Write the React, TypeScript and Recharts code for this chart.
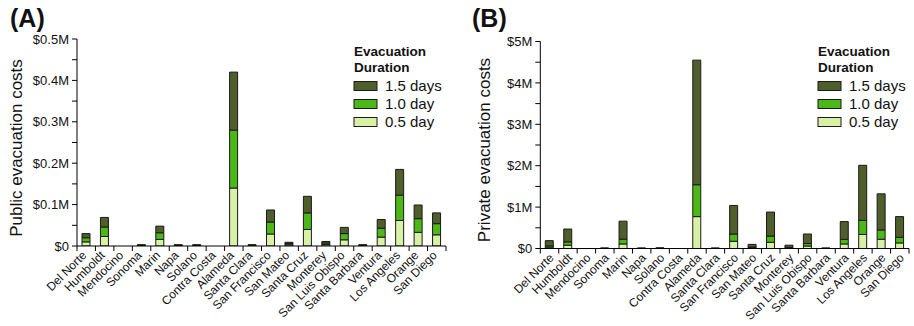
import React from 'react';
import { BarChart, Bar, XAxis, YAxis } from 'recharts';

const counties = [
  'Del Norte', 'Humboldt', 'Mendocino', 'Sonoma', 'Marin', 'Napa', 'Solano',
  'Contra Costa', 'Alameda', 'Santa Clara', 'San Francisco', 'San Mateo',
  'Santa Cruz', 'Monterey', 'San Luis Obispo', 'Santa Barbara', 'Ventura',
  'Los Angeles', 'Orange', 'San Diego',
];

// Public evacuation costs ($M), total cost for each evacuation duration
const publicHalfDay = [0.010, 0.023, 0, 0.001, 0.016, 0.001, 0.001, 0, 0.140, 0.001, 0.029, 0.003, 0.040, 0.0037, 0.015, 0.001, 0.0215, 0.0617, 0.033, 0.027];
const publicOneDay = [0.020, 0.046, 0, 0.002, 0.032, 0.002, 0.002, 0, 0.280, 0.002, 0.058, 0.006, 0.080, 0.0073, 0.030, 0.002, 0.043, 0.123, 0.066, 0.054];
const publicOneHalfDay = [0.030, 0.069, 0, 0.003, 0.048, 0.003, 0.003, 0, 0.420, 0.003, 0.087, 0.009, 0.120, 0.011, 0.045, 0.003, 0.064, 0.185, 0.099, 0.080];

// Private evacuation costs ($M)
const privateHalfDay = [0.032, 0.080, 0, 0.002, 0.110, 0.002, 0.003, 0, 0.770, 0.002, 0.175, 0.017, 0.150, 0.014, 0.060, 0.002, 0.110, 0.340, 0.224, 0.135];
const privateOneDay = [0.064, 0.160, 0, 0.004, 0.225, 0.004, 0.006, 0, 1.540, 0.004, 0.350, 0.034, 0.300, 0.027, 0.120, 0.004, 0.220, 0.680, 0.448, 0.270];
const privateOneHalfDay = [0.190, 0.470, 0, 0.012, 0.660, 0.010, 0.015, 0, 4.550, 0.010, 1.040, 0.100, 0.880, 0.080, 0.350, 0.010, 0.650, 2.010, 1.320, 0.770];

const legendLabels = ['1.5 days', '1.0 day', '0.5 day'];
const legendTitle = ['Evacuation', 'Duration'];

const publicYTicks = [0, 0.05, 0.1, 0.15, 0.2, 0.25, 0.3, 0.35, 0.4, 0.45, 0.5];
const publicYMajor = ['$0', '$0.1M', '$0.2M', '$0.3M', '$0.4M', '$0.5M'];
const privateYTicks = [0, 0.5, 1, 1.5, 2, 2.5, 3, 3.5, 4, 4.5, 5];
const privateYMajor = ['$0', '$1M', '$2M', '$3M', '$4M', '$5M'];

const COLORS = { d15: '#4f5e2b', d10: '#4cb818', d05: '#d9f1a6' };
const FONT = '"Liberation Sans", Arial, Helvetica, sans-serif';
const INK = '#111';

function buildData(half: number[], one: number[], oneHalf: number[]) {
  return counties.map((county, i) => ({
    county,
    d05: half[i],
    d10: one[i] - half[i],
    d15: oneHalf[i] - one[i],
  }));
}

const publicData = buildData(publicHalfDay, publicOneDay, publicOneHalfDay);
const privateData = buildData(privateHalfDay, privateOneDay, privateOneHalfDay);

type PanelProps = {
  data: any[];
  yTicks: number[];
  yMajor: string[];
  width: number;
  height: number;
  margin: { top: number; right: number; bottom: number; left: number };
  yAxisWidth: number;
  xAxisHeight: number;
  labelDx: number;
};

function Panel(p: PanelProps) {
  const plotW = p.width - p.margin.left - p.margin.right - p.yAxisWidth;
  const halfBand = plotW / p.data.length / 2;
  const XTick = (props: any) => {
    const { x, y, payload, index } = props;
    const off = payload && typeof payload.offset === 'number' && payload.offset > 0 ? payload.offset : halfBand;
    const last = index === p.data.length - 1;
    const ax = x + p.labelDx;
    const ay = y + 10;
    return (
      <g>
        <line x1={x - off} x2={x - off} y1={y} y2={y + 5} stroke="#000" strokeWidth={1} />
        {last && <line x1={x + off} x2={x + off} y1={y} y2={y + 5} stroke="#000" strokeWidth={1} />}
        <text
          x={ax}
          y={ay}
          transform={`rotate(-45 ${ax} ${ay})`}
          textAnchor="end"
          fontSize={12}
          fontFamily={FONT}
          fill={INK}
        >
          {payload.value}
        </text>
      </g>
    );
  };
  const YTick = (props: any) => {
    const { x, y, payload, index } = props;
    if (index % 2 !== 0) return <g />;
    return (
      <text x={x - 1} y={y} dy="0.36em" textAnchor="end" fontSize={13} fontFamily={FONT} fill={INK}>
        {p.yMajor[index / 2]}
      </text>
    );
  };
  return (
    <BarChart width={p.width} height={p.height} data={p.data} margin={p.margin} barSize={8}>
      <XAxis
        dataKey="county"
        interval={0}
        height={p.xAxisHeight}
        tickSize={0}
        tickMargin={0}
        tickLine={false}
        axisLine={{ stroke: '#000', strokeWidth: 1 }}
        tick={XTick}
      />
      <XAxis xAxisId="top" orientation="top" dataKey="county" height={0} tick={false} tickLine={false} axisLine={{ stroke: '#000', strokeWidth: 1 }} />
      <YAxis
        type="number"
        domain={[p.yTicks[0], p.yTicks[p.yTicks.length - 1]]}
        ticks={p.yTicks}
        interval={0}
        width={p.yAxisWidth}
        tickSize={5}
        tickMargin={2}
        tickLine={{ stroke: '#000', strokeWidth: 1 }}
        axisLine={{ stroke: '#000', strokeWidth: 1 }}
        tick={YTick}
        allowDataOverflow
      />
      <YAxis yAxisId="right" orientation="right" type="number" domain={[0, 1]} width={0} tick={false} tickLine={false} axisLine={{ stroke: '#000', strokeWidth: 1 }} />
      <Bar dataKey="d05" stackId="s" fill={COLORS.d05} stroke="#1a1a1a" strokeWidth={1} isAnimationActive={false} />
      <Bar dataKey="d10" stackId="s" fill={COLORS.d10} stroke="#1a1a1a" strokeWidth={1} isAnimationActive={false} />
      <Bar dataKey="d15" stackId="s" fill={COLORS.d15} stroke="#1a1a1a" strokeWidth={1} isAnimationActive={false} />
    </BarChart>
  );
}

function LegendBlock({ x }: { x: number }) {
  const swatchColors = [COLORS.d15, COLORS.d10, COLORS.d05];
  return (
    <g fontFamily={FONT} fill={INK}>
      <text x={x} y={55.5} fontSize={13.5} fontWeight="bold">{legendTitle[0]}</text>
      <text x={x} y={71.5} fontSize={13.5} fontWeight="bold">{legendTitle[1]}</text>
      {legendLabels.map((lab, i) => {
        const cy = 86 + i * 18;
        return (
          <g key={lab}>
            <rect x={x} y={cy - 4.5} width={23} height={9} fill={swatchColors[i]} stroke="#1a1a1a" strokeWidth={1} />
            <text x={x + 31} y={cy + 5.3} fontSize={15}>{lab}</text>
          </g>
        );
      })}
    </g>
  );
}

export default function App() {
  return (
    <div style={{ position: 'absolute', left: 0, top: 0, width: 914, height: 326, background: '#fff', fontFamily: FONT }}>
      <div style={{ position: 'absolute', left: 0, top: 0 }}>
        <Panel
          data={publicData}
          yTicks={publicYTicks}
          yMajor={publicYMajor}
          width={457}
          height={326}
          margin={{ top: 39, right: 11, bottom: 0, left: 0 }}
          yAxisWidth={77}
          xAxisHeight={80}
          labelDx={1}
        />
      </div>
      <div style={{ position: 'absolute', left: 457, top: 0 }}>
        <Panel
          data={privateData}
          yTicks={privateYTicks}
          yMajor={privateYMajor}
          width={457}
          height={326}
          margin={{ top: 41.5, right: 5, bottom: 0, left: 0 }}
          yAxisWidth={83.3}
          xAxisHeight={77.5}
          labelDx={5}
        />
      </div>
      <svg width={914} height={326} style={{ position: 'absolute', left: 0, top: 0, pointerEvents: 'none' }}>
        <text x={10} y={27} fontSize={25} fontWeight="bold" fontFamily={FONT} fill={INK}>(A)</text>
        <text x={472} y={27} fontSize={25} fontWeight="bold" fontFamily={FONT} fill={INK}>(B)</text>
        <text x={21.5} y={148} transform="rotate(-90 21.5 148)" textAnchor="middle" fontSize={17} fontFamily={FONT} fill={INK}>Public evacuation costs</text>
        <text x={489.5} y={150} transform="rotate(-90 489.5 150)" textAnchor="middle" fontSize={17} fontFamily={FONT} fill={INK}>Private evacuation costs</text>
        <LegendBlock x={354} />
        <LegendBlock x={818} />
      </svg>
    </div>
  );
}
